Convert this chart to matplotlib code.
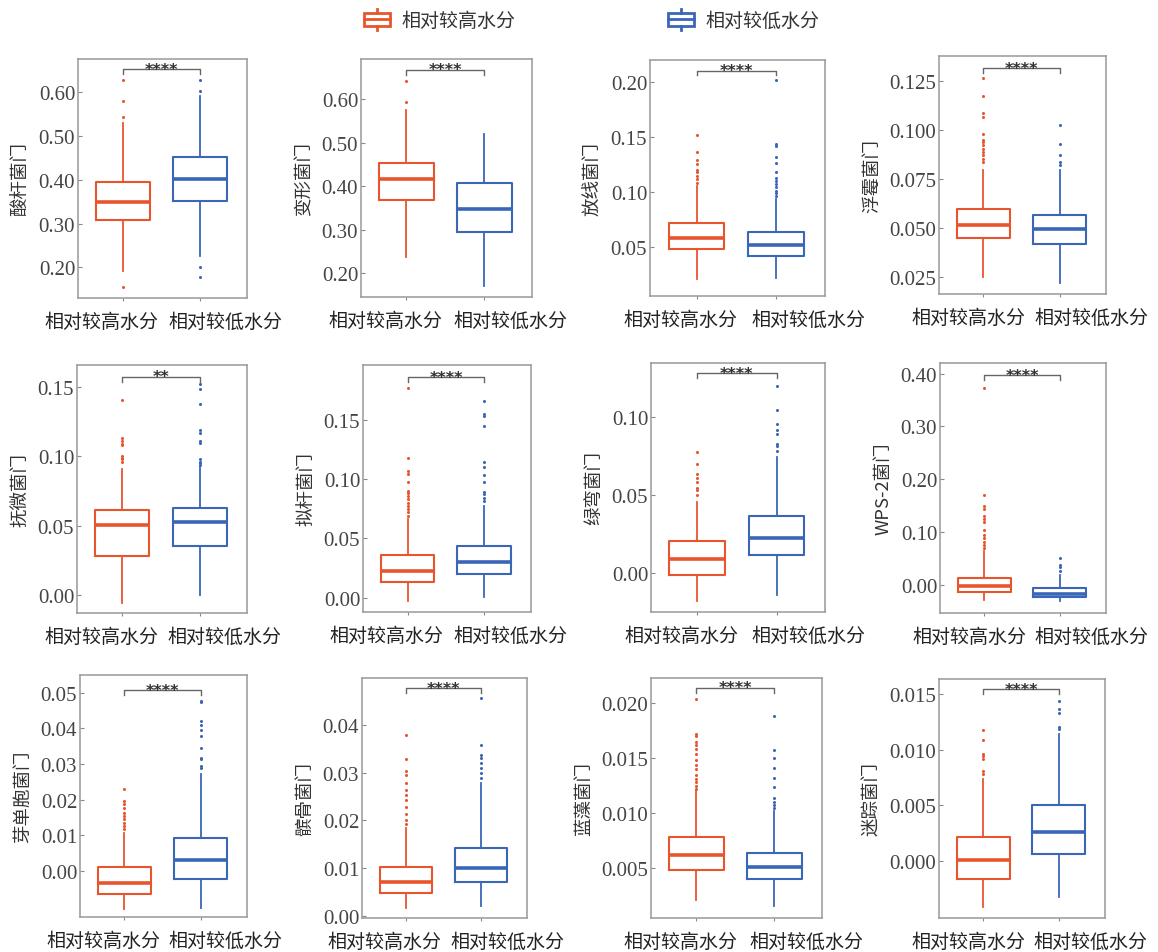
import matplotlib
matplotlib.use("Agg")
import matplotlib.pyplot as plt
from matplotlib.legend_handler import HandlerBase
from matplotlib.lines import Line2D
from matplotlib.patches import Rectangle

plt.rcParams['font.family'] = ['Noto Sans CJK SC', 'DejaVu Sans']

groups = ['相对较高水分', '相对较低水分']
phyla = ['酸杆菌门', '变形菌门', '放线菌门', '浮霉菌门',
         '抚微菌门', '拟杆菌门', '绿弯菌门', 'WPS-2菌门',
         '芽单胞菌门', '髌骨菌门', '蓝藻菌门', '迷踪菌门']
signif = ['****', '****', '****', '****',
          '**', '****', '****', '****',
          '****', '****', '****', '****']

# (q1, median, q3, whisker low, whisker high) per phylum
high_stats = [
    (0.308, 0.350, 0.396, 0.192, 0.529),
    (0.368, 0.416, 0.454, 0.238, 0.575),
    (0.0476, 0.0582, 0.0717, 0.0201, 0.1055),
    (0.0449, 0.0517, 0.0596, 0.0250, 0.0795),
    (0.0283, 0.0504, 0.0616, -0.006, 0.091),
    (0.0132, 0.0225, 0.0357, -0.0028, 0.0661),
    (-0.0010, 0.0088, 0.0205, -0.0182, 0.0455),
    (-0.0134, -0.0012, 0.0140, -0.0287, 0.064),
    (-0.0064, -0.0033, 0.0012, -0.0107, 0.0107),
    (0.0048, 0.0071, 0.0102, 0.0016, 0.0184),
    (0.0048, 0.0062, 0.0078, 0.0021, 0.0120),
    (-0.0016, 0.00006, 0.00215, -0.0041, 0.00738),
]
high_fliers = [
    [0.628, 0.579, 0.544, 0.156],
    [0.642, 0.594],
    [0.1085, 0.1116, 0.1146, 0.1177, 0.1201, 0.125, 0.129, 0.1366, 0.1521],
    [0.0838, 0.0855, 0.0872, 0.0889, 0.0906, 0.0923, 0.094, 0.0948, 0.0979,
     0.1068, 0.109, 0.1173, 0.1269],
    [0.141, 0.113, 0.111, 0.109, 0.108, 0.100, 0.099, 0.098, 0.096],
    [0.069, 0.0718, 0.0746, 0.0774, 0.0802, 0.083, 0.0858, 0.0886, 0.090,
     0.0971, 0.1041, 0.1069, 0.1176, 0.1767],
    [0.0498, 0.053, 0.0545, 0.0583, 0.0609, 0.0637, 0.0701, 0.0776],
    [0.070, 0.076, 0.082, 0.0884, 0.0945, 0.1037, 0.119, 0.125, 0.131,
     0.143, 0.149, 0.1707, 0.372],
    [0.0117, 0.0126, 0.0136, 0.0145, 0.0154, 0.0164, 0.0178, 0.0187,
     0.0196, 0.0229],
    [0.0193, 0.0200, 0.0213, 0.0229, 0.0242, 0.0254, 0.0264, 0.0279,
     0.0296, 0.0304, 0.0329, 0.038],
    [0.0122, 0.0125, 0.0128, 0.0131, 0.0135, 0.014, 0.0144, 0.0148, 0.0154,
     0.0158, 0.0162, 0.0165, 0.017, 0.0172, 0.0204],
    [0.00783, 0.00813, 0.00917, 0.00941, 0.00962, 0.01088, 0.01177],
]
low_stats = [
    (0.352, 0.403, 0.451, 0.227, 0.592),
    (0.296, 0.349, 0.407, 0.171, 0.521),
    (0.0415, 0.0515, 0.0637, 0.0216, 0.0939),
    (0.0420, 0.0497, 0.0569, 0.0221, 0.0795),
    (0.0354, 0.0526, 0.0626, 0.000, 0.093),
    (0.0203, 0.0301, 0.0436, 0.0005, 0.0774),
    (0.0113, 0.0226, 0.0365, -0.0143, 0.0744),
    (-0.0232, -0.0171, -0.0061, -0.0305, 0.0183),
    (-0.0021, 0.0031, 0.0093, -0.0103, 0.0271),
    (0.0071, 0.0101, 0.0143, 0.0021, 0.0279),
    (0.0040, 0.0051, 0.0064, 0.0015, 0.0102),
    (0.00066, 0.0026, 0.00505, -0.00323, 0.01141),
]
low_fliers = [
    [0.604, 0.628, 0.200, 0.177],
    [],
    [0.0963, 0.0985, 0.101, 0.104, 0.107, 0.110, 0.113, 0.1177, 0.1268,
     0.1314, 0.1415, 0.1433, 0.2021],
    [0.0821, 0.0838, 0.0872, 0.0928, 0.1025],
    [0.152, 0.149, 0.138, 0.119, 0.117, 0.111, 0.110, 0.098, 0.096, 0.095,
     0.094],
    [0.0816, 0.0844, 0.0872, 0.0892, 0.0976, 0.1033, 0.1098, 0.114, 0.1444,
     0.1534, 0.1548, 0.1655],
    [0.0786, 0.0814, 0.0829, 0.0893, 0.0919, 0.0957, 0.1049, 0.1203],
    [0.0274, 0.0335, 0.0384, 0.0518],
    [0.029, 0.0294, 0.0313, 0.0318, 0.0346, 0.038, 0.0397, 0.0411, 0.0421,
     0.0474, 0.0477],
    [0.0288, 0.030, 0.031, 0.032, 0.033, 0.0337, 0.0358, 0.0457],
    [0.0105, 0.0107, 0.011, 0.0114, 0.0124, 0.0132, 0.0141, 0.015, 0.0157,
     0.0188],
    [0.01186, 0.01201, 0.0133, 0.01366, 0.0144],
]

# layout: axes boxes in pixels (left, top, right, bottom)
rects = [
    (78, 60, 247, 299), (361, 60, 532, 298), (650, 61, 825, 297), (939, 57, 1106, 295),
    (77, 366, 247, 614), (363, 366, 531, 613), (651, 364, 825, 613), (940, 364, 1106, 614),
    (80, 676, 247, 918), (362, 679, 527, 919), (651, 679, 822, 919), (939, 680, 1105, 919),
]
ylims = [
    (0.130, 0.676), (0.146, 0.692), (0.0049, 0.2204), (0.0163, 0.138),
    (-0.013, 0.166), (-0.012, 0.196), (-0.025, 0.1348), (-0.053, 0.42),
    (-0.0129, 0.055), (-0.0005, 0.0499), (0.00045, 0.0223), (-0.0051, 0.01634),
]
yticks = [
    [0.2, 0.3, 0.4, 0.5, 0.6], [0.2, 0.3, 0.4, 0.5, 0.6],
    [0.05, 0.10, 0.15, 0.20], [0.025, 0.05, 0.075, 0.1, 0.125],
    [0.0, 0.05, 0.10, 0.15], [0.0, 0.05, 0.10, 0.15],
    [0.0, 0.05, 0.10], [0.0, 0.1, 0.2, 0.3, 0.4],
    [0.0, 0.01, 0.02, 0.03, 0.04, 0.05], [0.0, 0.01, 0.02, 0.03, 0.04],
    [0.005, 0.010, 0.015, 0.020], [0.0, 0.005, 0.010, 0.015],
]
ydec = [2, 2, 2, 3, 2, 2, 2, 2, 2, 2, 3, 3]
bracket_y = [0.653, 0.667, 0.2107, 0.1318, 0.1574, 0.1857, 0.1282, 0.3965,
             0.0507, 0.0477, 0.0214, 0.0154]
# horizontal shift of the two x labels (pixels), per column
label_shift = [(-21, 25), (-21, 26), (-16, 32), (-15, 32)]

colors = ['#E8552D', '#3A66B8']
W, H = 1158, 953

fig = plt.figure(figsize=(W / 100, H / 100), dpi=100)

for i in range(12):
    l, t, r, b = rects[i]
    ax = fig.add_axes([l / W, 1 - b / H, (r - l) / W, (b - t) / H])
    stats = []
    for s, fl in [(high_stats[i], high_fliers[i]), (low_stats[i], low_fliers[i])]:
        stats.append(dict(q1=s[0], med=s[1], q3=s[2], whislo=s[3], whishi=s[4],
                          fliers=fl))
    bp = ax.bxp(stats, positions=[1, 2], widths=0.7, showcaps=False,
                boxprops=dict(linewidth=1.5),
                whiskerprops=dict(linewidth=1.3),
                medianprops=dict(linewidth=2.6),
                flierprops=dict(marker='o', markersize=2.2, markeredgewidth=0))
    for k, c in enumerate(colors):
        bp['boxes'][k].set_color(c)
        bp['medians'][k].set_color(c)
        bp['whiskers'][2 * k].set_color(c)
        bp['whiskers'][2 * k + 1].set_color(c)
        bp['fliers'][k].set_markerfacecolor(c)

    ax.set_xlim(0.417, 2.61)
    ax.set_ylim(*ylims[i])
    ax.set_yticks(yticks[i])
    ax.set_yticklabels([f'{v:.{ydec[i]}f}' for v in yticks[i]],
                       family='Liberation Serif', fontsize=15, color='#444444')
    ax.set_xticks([1, 2])
    ax.set_xticklabels([])
    for k in range(2):
        ax.annotate(groups[k], xy=(k + 1, 0), xycoords=('data', 'axes fraction'),
                    xytext=(label_shift[i % 4][k] * 0.72, -9),
                    textcoords='offset points', ha='center', va='top',
                    fontsize=13.7, color='#222222')
    ax.tick_params(axis='y', direction='in', length=3, pad=2, color='#888888')
    ax.tick_params(axis='x', direction='out', length=2, color='#888888')
    ax.set_ylabel(phyla[i], fontsize=13.3, color='#333333', labelpad=6)
    for sp in ax.spines.values():
        sp.set_color('#999999')
        sp.set_linewidth(1.1)

    # significance bracket
    yb = bracket_y[i]
    d = 0.02 * (ylims[i][1] - ylims[i][0])
    ax.plot([1, 1, 2, 2], [yb - d, yb, yb, yb - d], color='#666666', lw=1)
    ax.text(1.5, yb, signif[i], ha='center', va='center', fontsize=11.5,
            fontweight='bold', color='#333333', family='DejaVu Sans')


class BoxHandler(HandlerBase):
    def create_artists(self, legend, orig_handle, xdescent, ydescent,
                       width, height, fontsize, trans):
        c = orig_handle.get_color()
        x0, y0 = -xdescent, -ydescent
        bh = height * 0.62
        by = y0 + (height - bh) / 2
        box = Rectangle((x0, by), width, bh, facecolor='none', edgecolor=c,
                        linewidth=2, transform=trans)
        med = Line2D([x0, x0 + width], [y0 + height / 2] * 2, color=c,
                     linewidth=2, transform=trans)
        cx = x0 + width / 2
        top = Line2D([cx, cx], [by + bh, y0 + height], color=c, linewidth=2,
                     transform=trans)
        bot = Line2D([cx, cx], [y0, by], color=c, linewidth=2, transform=trans)
        return [box, med, top, bot]


handles = [Line2D([], [], color=c) for c in colors]
fig.legend(handles, groups, loc='upper center', bbox_to_anchor=(0.511, 1.008),
           ncol=2, frameon=False, fontsize=13.7, handlelength=1.4,
           handleheight=1.4, handletextpad=0.6, columnspacing=8.0,
           handler_map={Line2D: BoxHandler()}, labelcolor='#333333')

fig.savefig('out.png', dpi=100)
